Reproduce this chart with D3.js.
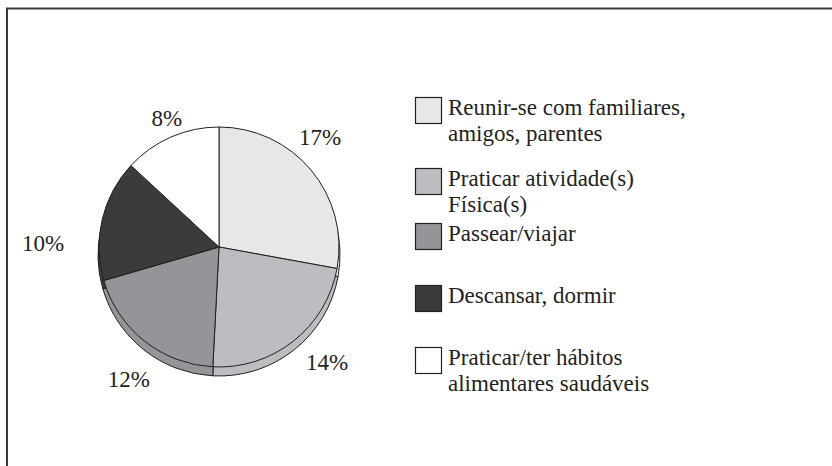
<!DOCTYPE html>
<html>
<head>
<meta charset="utf-8">
<script src="https://cdn.jsdelivr.net/npm/d3@7"></script>
<style>
  html, body { margin: 0; padding: 0; background: #fff; }
  svg { display: block; }
</style>
</head>
<body>
<svg id="chart"></svg>
<script>
// Data
const categories = [
  "Reunir-se com familiares,|amigos, parentes",
  "Praticar atividade(s)|Física(s)",
  "Passear/viajar",
  "Descansar, dormir",
  "Praticar/ter hábitos|alimentares saudáveis"
];
const values = [17, 14, 12, 10, 8];
const valueLabels = ["17%", "14%", "12%", "10%", "8%"];
const colors = ["#e6e7e8", "#bcbdc0", "#939598", "#3b3b3c", "#ffffff"];

// Layout
const width = 832, height = 466;
const cx = 219, cy = 247, radius = 120;
const depth = 8;
const labelRadius = 155;
// hand nudges so labels sit where the original has them
const labelNudge = [[-18, -10], [12, -6], [6, 11], [-25, 32], [10, 14]];
const legendX = 415;
const legendTops = [97, 168, 223, 285, 347];
const fontSize = 23;
const serif = "'Liberation Serif', 'Times New Roman', Tinos, 'DejaVu Serif', 'Noto Serif', serif";

const svg = d3.select("#chart").attr("width", width).attr("height", height);

// Frame (only top and left edges are visible in the crop)
svg.append("path")
  .attr("d", `M7,${height} V8.5 H${width}`)
  .attr("fill", "none")
  .attr("stroke", "#3a3a3a")
  .attr("stroke-width", 2);

const pie = d3.pie().sort(null).value(d => d);
const arcs = pie(values);

// Side of the pie (a slightly lower copy gives the thin 3D rim)
const sideArc = d3.arc().innerRadius(0).outerRadius(radius + 1);
svg.append("g")
  .attr("transform", `translate(${cx},${cy + depth})`)
  .selectAll("path")
  .data(arcs)
  .join("path")
  .attr("d", sideArc)
  .attr("fill", (d, i) => colors[i])
  .attr("stroke", "#231f20")
  .attr("stroke-width", 1);

// Top face
const arc = d3.arc().innerRadius(0).outerRadius(radius);
const pieG = svg.append("g").attr("transform", `translate(${cx},${cy})`);
pieG.selectAll("path")
  .data(arcs)
  .join("path")
  .attr("d", arc)
  .attr("fill", (d, i) => colors[i])
  .attr("stroke", "#231f20")
  .attr("stroke-width", 1)
  .attr("stroke-linejoin", "round");

// Percent labels
const labelArc = d3.arc().innerRadius(labelRadius).outerRadius(labelRadius);
pieG.selectAll("text")
  .data(arcs)
  .join("text")
  .attr("x", (d, i) => labelArc.centroid(d)[0] + labelNudge[i][0])
  .attr("y", (d, i) => labelArc.centroid(d)[1] + labelNudge[i][1])
  .attr("text-anchor", "middle")
  .attr("dominant-baseline", "central")
  .attr("font-family", serif)
  .attr("font-size", fontSize)
  .attr("fill", "#231f20")
  .text((d, i) => valueLabels[i]);

// Legend
const legend = svg.append("g");
const items = legend.selectAll("g")
  .data(categories)
  .join("g")
  .attr("transform", (d, i) => `translate(${legendX},${legendTops[i]})`);

items.append("rect")
  .attr("x", 0.5).attr("y", 0.5)
  .attr("width", 26).attr("height", 26)
  .attr("fill", (d, i) => colors[i])
  .attr("stroke", "#231f20")
  .attr("stroke-width", 1.2);

items.append("text")
  .attr("x", 33)
  .attr("y", 18)
  .attr("font-family", serif)
  .attr("font-size", fontSize)
  .attr("fill", "#231f20")
  .selectAll("tspan")
  .data(d => d.split("|"))
  .join("tspan")
  .attr("x", 33)
  .attr("dy", (d, i) => i === 0 ? 0 : 26)
  .text(d => d);
</script>
</body>
</html>
